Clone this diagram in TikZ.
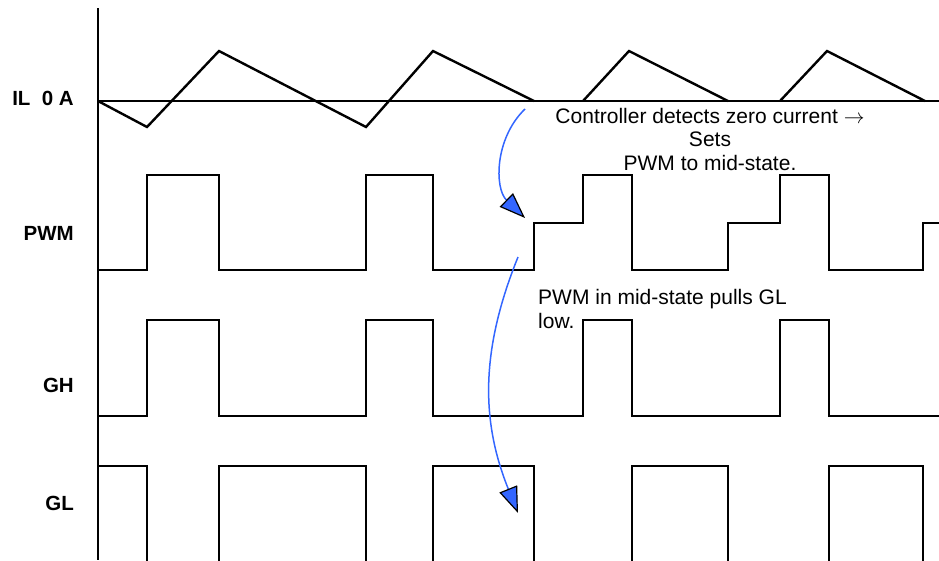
\documentclass[tikz,border=0pt]{standalone}
\usepackage{fontspec}
\setmainfont{Liberation Sans}
\usetikzlibrary{arrows.meta}
\definecolor{notearrow}{RGB}{51,102,255}

\begin{document}
\begin{tikzpicture}[
    x=1pt, y=-1pt,
    sig/.style={line width=2.4pt,line join=miter},
    lbl/.style={anchor=east,inner sep=0pt,font=\fontsize{20.5}{23}\selectfont\bfseries},
    note/.style={inner sep=0pt,font=\fontsize{21}{23.5}\selectfont},
    cause/.style={notearrow,line width=1.5pt,
      -{Triangle[length=26pt,width=19pt,color=black,fill=notearrow,line width=1.2pt]}}
]
\useasboundingbox (0,0) rectangle (939,560);
\clip (0,0) rectangle (939,560);

% Time axis
\draw[line width=1.7pt] (98,8) -- (98,560);

% IL
\node[lbl] (il) at (74,98) {IL\ \ 0 A};
\draw[line width=2.2pt] (98,101) -- (939,101);
\draw[sig] (98,101) -- (147,127) -- (219,51) -- (366,127) -- (433,51) -- (534,101)
  (583,101) -- (629,51) -- (728,101)
  (780,101) -- (827,51) -- (925,101);

% PWM
\node[lbl] (pwm) at (74,233) {PWM};
\draw[sig] (98,270) -| (147,175) -| (219,270) -| (366,175) -| (433,270) -| (534,223)
  -| (583,175) -| (632,270) -| (728,223) -| (780,175) -| (829,270) -| (923,223) -- (939,223);

% GH
\node[lbl] (gh) at (74,385) {GH};
\draw[sig] (98,416) -| (147,320) -| (219,416) -| (366,320) -| (433,416)
  -| (583,320) -| (632,416) -| (780,320) -| (829,416) -- (939,416);

% GL
\node[lbl] (gl) at (74,503) {GL};
\draw[sig] (98,466) -| (147,575) -| (219,466) -| (366,575) -| (433,466) -| (534,575)
  -| (632,466) -| (728,575) -| (829,466) -| (923,575);

% Notes
\node[note,align=center] (zcd) at (710,139) {Controller detects zero current $\rightarrow$\\Sets\\PWM to mid-state.};
\node[note,align=left,anchor=west] (midnote) at (538,309) {PWM in mid-state pulls GL\\low.};

\coordinate (zcdtail) at (525,109);
\coordinate (zcdhead) at (525,218);
\draw[cause] (zcdtail) to[bend right=46] (zcdhead);

\coordinate (midtail) at (518,257);
\coordinate (midhead) at (518,513);
\draw[cause] (midtail) to[bend right=22] (midhead);
\end{tikzpicture}
\end{document}
